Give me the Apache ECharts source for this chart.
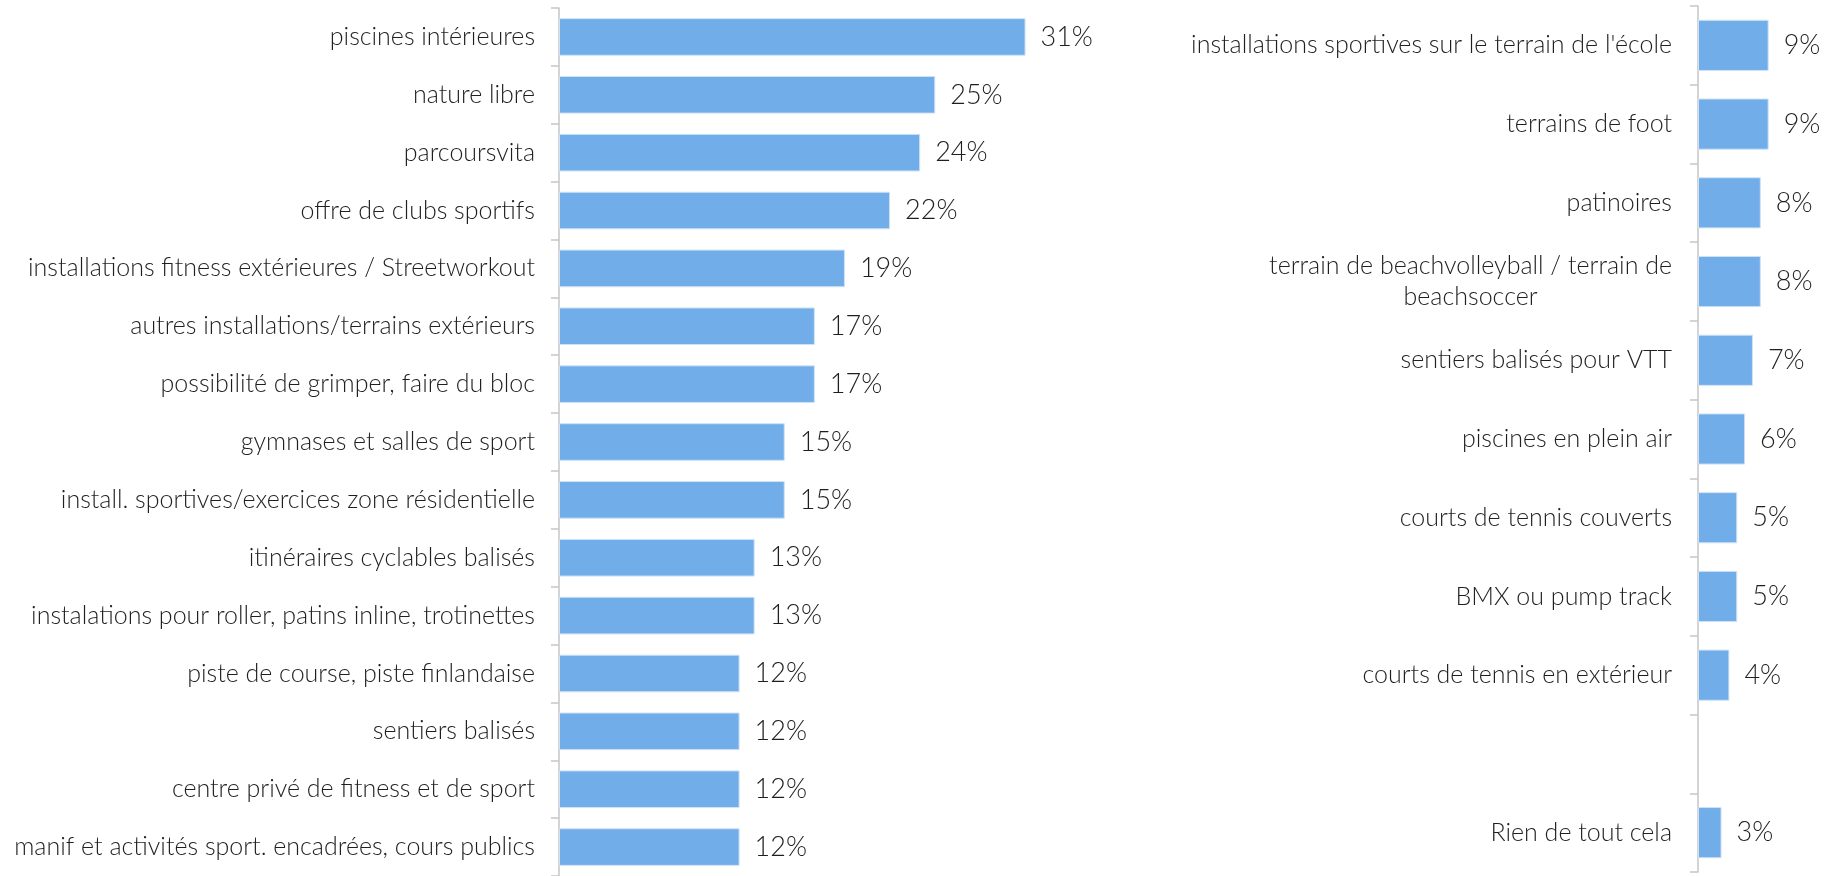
<!DOCTYPE html>
<html>
<head>
<meta charset="utf-8">
<script src="https://cdn.jsdelivr.net/npm/echarts@6/dist/echarts.min.js"></script>
<style>
    html, body { margin: 0; padding: 0; background: #fff; }
    #container { width: 1830px; height: 876px; }
</style>
</head>
<body>
<div id="container"></div>
<script>
// catégories et valeurs (en %)
var leftCategories = [
    'piscines intérieures',
    'nature libre',
    'parcoursvita',
    'offre de clubs sportifs',
    'installations fitness extérieures / Streetworkout',
    'autres installations/terrains extérieurs',
    'possibilité de grimper, faire du bloc',
    'gymnases et salles de sport',
    'install. sportives/exercices zone résidentielle',
    'itinéraires cyclables balisés',
    'instalations pour roller, patins inline, trotinettes',
    'piste de course, piste finlandaise',
    'sentiers balisés',
    'centre privé de fitness et de sport',
    'manif et activités sport. encadrées, cours publics'
];
var leftValues = [31, 25, 24, 22, 19, 17, 17, 15, 15, 13, 13, 12, 12, 12, 12];

var rightCategories = [
    "installations sportives sur le terrain de l'école",
    'terrains de foot',
    'patinoires',
    'terrain de beachvolleyball / terrain de\nbeachsoccer',
    'sentiers balisés pour VTT',
    'piscines en plein air',
    'courts de tennis couverts',
    'BMX ou pump track',
    'courts de tennis en extérieur',
    '',
    'Rien de tout cela'
];
var rightValues = [9, 9, 8, 8, 7, 6, 5, 5, 4, null, 3];

var font = 'Lato';
var fontSize = 25;
var valueFontSize = 27;
var fontWeight = 300;
var textColor = '#1f1f1f';
var barColor = '#71ade9';

function catAxis(gridIndex, data, margin) {
    return {
        type: 'category',
        gridIndex: gridIndex,
        inverse: true,
        data: data,
        axisLine: { lineStyle: { color: '#c6c6c6', width: 1.5 } },
        axisTick: { show: true, length: 8, lineStyle: { color: '#c6c6c6', width: 1.5 } },
        axisLabel: {
            margin: margin,
            color: textColor,
            fontFamily: font,
            fontSize: fontSize,
            fontWeight: fontWeight,
            formatter: function (value) {
                var lines = value.split('\n');
                if (lines.length > 1) {
                    return '{a|' + lines[0] + '}\n{b|' + lines[1] + '}';
                }
                return value;
            },
            rich: {
                a: { fontFamily: font, fontSize: fontSize, fontWeight: fontWeight, color: textColor, lineHeight: 31 },
                b: { fontFamily: font, fontSize: fontSize, fontWeight: fontWeight, color: textColor, lineHeight: 31, align: 'center' }
            }
        }
    };
}

function valAxis(gridIndex, max) {
    return {
        type: 'value',
        gridIndex: gridIndex,
        min: 0,
        max: max,
        show: false,
        splitLine: { show: false }
    };
}

function barSeries(index, values) {
    return {
        type: 'bar',
        xAxisIndex: index,
        yAxisIndex: index,
        data: values,
        barCategoryGap: '35%',
        itemStyle: { color: barColor, borderColor: '#cfe2f7', borderWidth: 1 },
        label: {
            show: true,
            position: 'right',
            distance: 15,
            color: textColor,
            fontFamily: font,
            fontSize: valueFontSize,
            fontWeight: fontWeight,
            formatter: function (p) {
                return p.value == null ? '' : p.value + '%';
            }
        },
        silent: true
    };
}

var myChart = echarts.init(document.getElementById('container'));
var option = {
    backgroundColor: '#fff',
    animation: false,
    grid: [
        { left: 559, top: 8, width: 602, height: 875 },
        { left: 1698, top: 6, width: 78.5, height: 866 }
    ],
    xAxis: [valAxis(0, 40), valAxis(1, 10)],
    yAxis: [catAxis(0, leftCategories, 24), catAxis(1, rightCategories, 26)],
    series: [barSeries(0, leftValues), barSeries(1, rightValues)]
};
myChart.setOption(option);
</script>
</body>
</html>
